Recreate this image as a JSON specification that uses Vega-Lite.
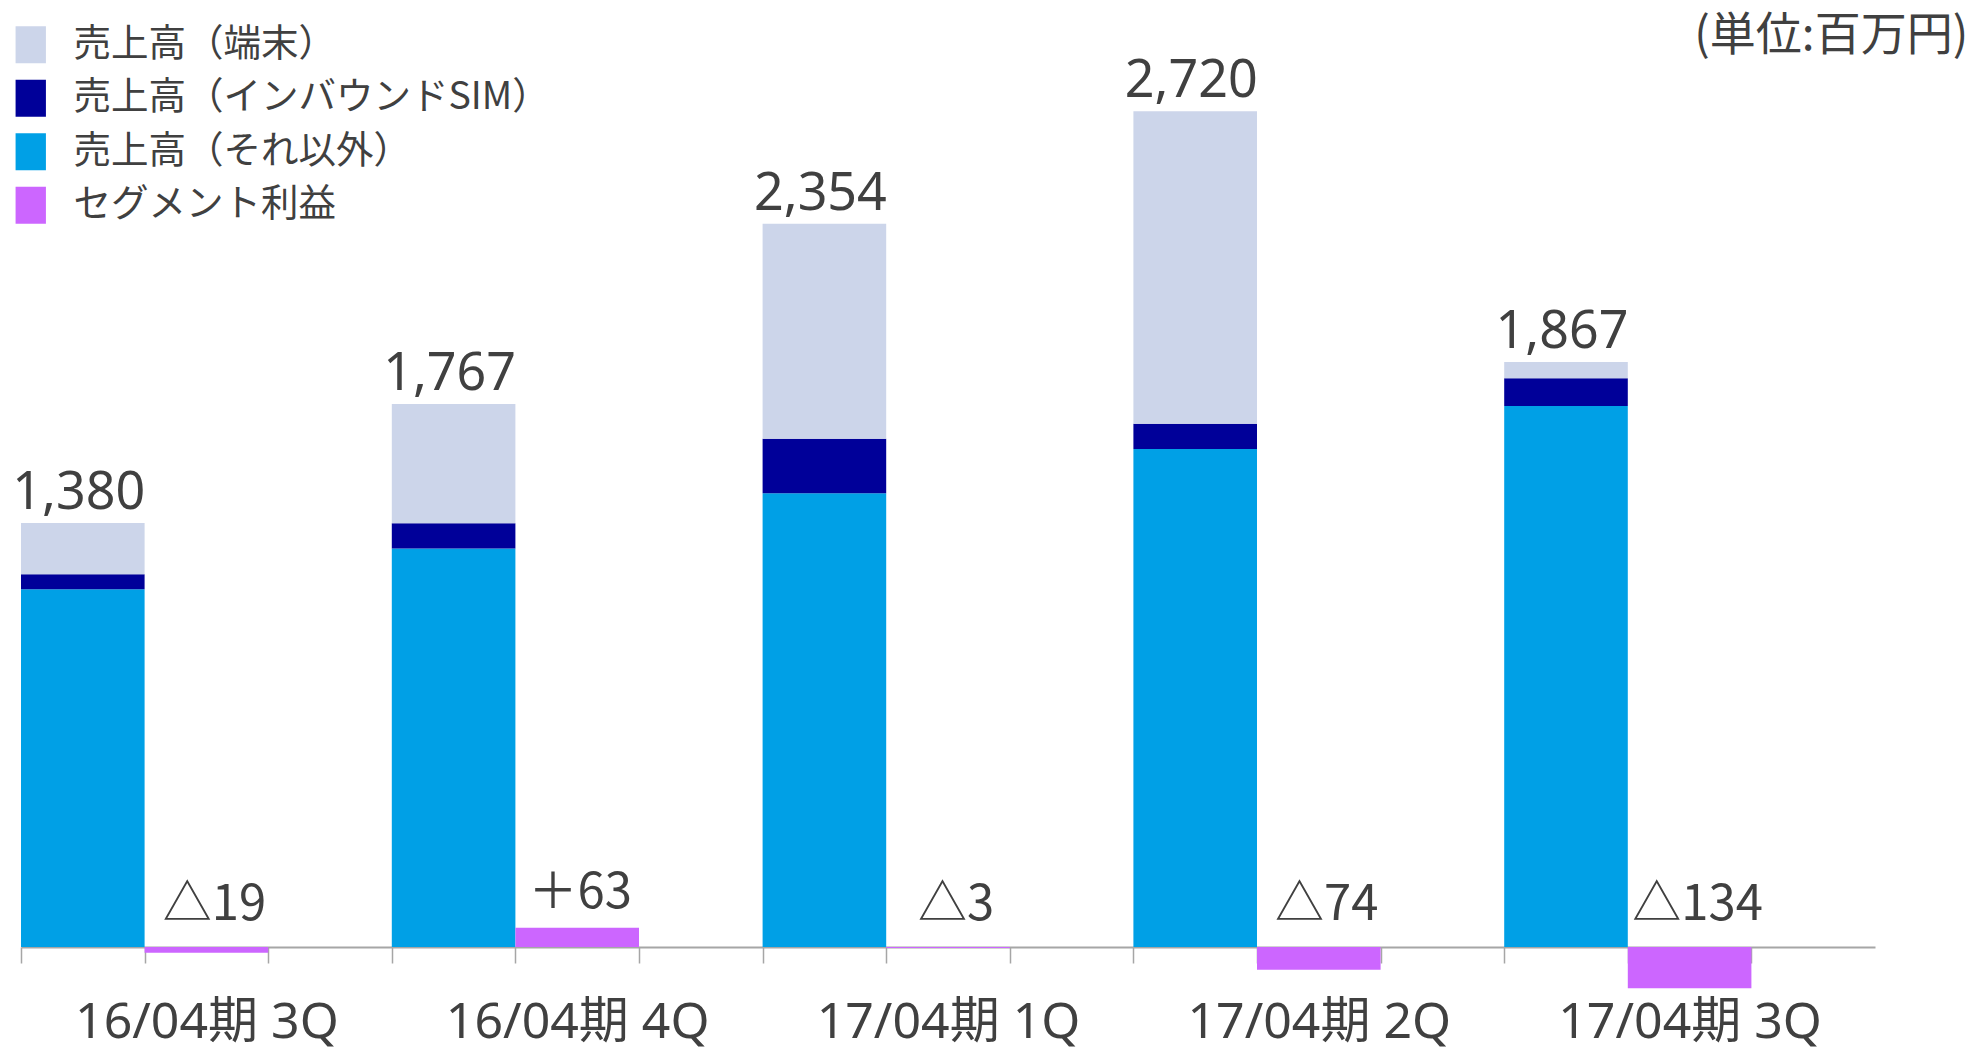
{
  "$schema": "https://vega.github.io/schema/vega-lite/v6.json",
  "width": 1854,
  "height": 891,
  "autosize": {"type": "none"},
  "padding": {"left": 21, "top": 56, "right": 102, "bottom": 105},
  "background": "white",
  "config": {"view": {"stroke": null}, "font": "Noto Sans, Noto Sans CJK JP"},
  "datasets": {
    "sales": [
      {"slot": "16/04期 3Q|a", "series": "売上高（それ以外）", "value": 1164},
      {"slot": "16/04期 3Q|a", "series": "売上高（インバウンドSIM）", "value": 49},
      {"slot": "16/04期 3Q|a", "series": "売上高（端末）", "value": 167, "total": "1,380"},
      {"slot": "16/04期 4Q|a", "series": "売上高（それ以外）", "value": 1297},
      {"slot": "16/04期 4Q|a", "series": "売上高（インバウンドSIM）", "value": 82},
      {"slot": "16/04期 4Q|a", "series": "売上高（端末）", "value": 388, "total": "1,767"},
      {"slot": "17/04期 1Q|a", "series": "売上高（それ以外）", "value": 1477},
      {"slot": "17/04期 1Q|a", "series": "売上高（インバウンドSIM）", "value": 177},
      {"slot": "17/04期 1Q|a", "series": "売上高（端末）", "value": 700, "total": "2,354"},
      {"slot": "17/04期 2Q|a", "series": "売上高（それ以外）", "value": 1621},
      {"slot": "17/04期 2Q|a", "series": "売上高（インバウンドSIM）", "value": 82},
      {"slot": "17/04期 2Q|a", "series": "売上高（端末）", "value": 1017, "total": "2,720"},
      {"slot": "17/04期 3Q|a", "series": "売上高（それ以外）", "value": 1761},
      {"slot": "17/04期 3Q|a", "series": "売上高（インバウンドSIM）", "value": 90},
      {"slot": "17/04期 3Q|a", "series": "売上高（端末）", "value": 53, "total": "1,867"}
    ],
    "profit": [
      {"slot": "16/04期 3Q|b", "series": "セグメント利益", "value": -19, "label": "△19"},
      {"slot": "16/04期 4Q|b", "series": "セグメント利益", "value": 63, "label": "＋63"},
      {"slot": "17/04期 1Q|b", "series": "セグメント利益", "value": -3, "label": "△3"},
      {"slot": "17/04期 2Q|b", "series": "セグメント利益", "value": -74, "label": "△74"},
      {"slot": "17/04期 3Q|b", "series": "セグメント利益", "value": -134, "label": "△134"}
    ],
    "unit": [
      {"text": "(単位:百万円)"}
    ]
  },
  "layer": [
    {
      "data": {"name": "sales"},
      "mark": {"type": "bar"},
      "encoding": {
        "x": {
          "field": "slot",
          "type": "nominal",
          "scale": {
            "domain": [
              "16/04期 3Q|a", "16/04期 3Q|b", "16/04期 3Q|c",
              "16/04期 4Q|a", "16/04期 4Q|b", "16/04期 4Q|c",
              "17/04期 1Q|a", "17/04期 1Q|b", "17/04期 1Q|c",
              "17/04期 2Q|a", "17/04期 2Q|b", "17/04期 2Q|c",
              "17/04期 3Q|a", "17/04期 3Q|b", "17/04期 3Q|c"
            ],
            "paddingInner": 0,
            "paddingOuter": 0
          },
          "axis": {
            "title": null,
            "domainColor": "#A6A6A6",
            "domainWidth": 2,
            "tickColor": "#A6A6A6",
            "tickWidth": 1.5,
            "tickSize": 16,
            "tickOffset": -61.8,
            "labelOffset": 61.8,
            "labelFontSize": 50,
            "labelColor": "#404040",
            "labelFont": "Noto Sans, Noto Sans CJK JP",
            "labelBaseline": "alphabetic",
            "labelPadding": 74,
            "labelAngle": 0,
            "labelOverlap": false,
            "labelLimit": 1000,
            "grid": false,
            "labelExpr": "indexof(datum.value, '|b') > 0 ? split(datum.value, '|')[0] : ''"
          }
        },
        "y": {"field": "value", "type": "quantitative", "scale": {"domain": [0, 2900], "nice": false}, "axis": null},
        "color": {
          "field": "series",
          "type": "nominal",
          "scale": {
            "domain": ["売上高（端末）", "売上高（インバウンドSIM）", "売上高（それ以外）", "セグメント利益"],
            "range": ["#CCD5EA", "#000099", "#00A0E6", "#CC66FF"]
          },
          "legend": {
            "orient": "none",
            "legendX": -9,
            "legendY": -30,
            "title": null,
            "symbolType": "M-0.82,-1H0.82V1H-0.82Z",
            "symbolSize": 1369,
            "symbolStrokeWidth": 0,
            "labelFontSize": 37.5,
            "labelFont": "Noto Sans CJK JP",
            "labelColor": "#404040",
            "labelOffset": 24,
            "labelLimit": 1000,
            "rowPadding": 14.5
          }
        },
        "order": {"field": "series", "sort": "ascending"}
      }
    },
    {
      "data": {"name": "profit"},
      "mark": {"type": "bar"},
      "encoding": {
        "x": {"field": "slot", "type": "nominal"},
        "y": {"field": "value", "type": "quantitative"},
        "color": {"field": "series", "type": "nominal"}
      }
    },
    {
      "data": {"name": "sales"},
      "transform": [
        {"joinaggregate": [{"op": "sum", "field": "value", "as": "top"}], "groupby": ["slot"]},
        {"filter": "isValid(datum.total)"}
      ],
      "mark": {"type": "text", "baseline": "alphabetic", "align": "center", "dy": -14, "dx": -4, "fontSize": 52, "color": "#404040", "font": "Noto Sans, Noto Sans CJK JP"},
      "encoding": {
        "x": {"field": "slot", "type": "nominal"},
        "y": {"field": "top", "type": "quantitative"},
        "text": {"field": "total", "type": "nominal"}
      }
    },
    {
      "data": {"name": "profit"},
      "transform": [{"filter": "datum.value < 0"}],
      "mark": {"type": "text", "baseline": "alphabetic", "align": "center", "dy": -27, "dx": 8, "fontSize": 49, "color": "#404040", "font": "Noto Sans CJK JP"},
      "encoding": {
        "x": {"field": "slot", "type": "nominal"},
        "y": {"datum": 0, "type": "quantitative"},
        "text": {"field": "label", "type": "nominal"}
      }
    },
    {
      "data": {"name": "profit"},
      "transform": [{"filter": "datum.value >= 0"}],
      "mark": {"type": "text", "baseline": "alphabetic", "align": "center", "dy": -20, "dx": 3, "fontSize": 49, "color": "#404040", "font": "Noto Sans CJK JP"},
      "encoding": {
        "x": {"field": "slot", "type": "nominal"},
        "y": {"field": "value", "type": "quantitative"},
        "text": {"field": "label", "type": "nominal"}
      }
    },
    {
      "data": {"name": "unit"},
      "mark": {"type": "text", "baseline": "alphabetic", "align": "right", "dy": -6, "dx": 155, "fontSize": 46, "color": "#404040", "font": "Noto Sans CJK JP"},
      "encoding": {
        "x": {"datum": "17/04期 3Q|c", "type": "nominal"},
        "y": {"datum": 2900, "type": "quantitative"},
        "text": {"field": "text", "type": "nominal"}
      }
    }
  ]
}
